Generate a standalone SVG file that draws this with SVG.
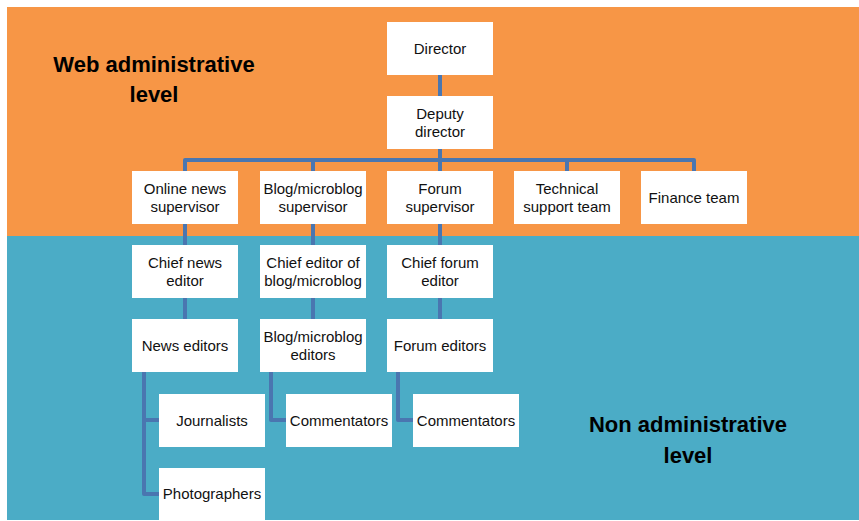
<svg xmlns="http://www.w3.org/2000/svg" width="859" height="521" viewBox="0 0 859 521">
<style>
.box{fill:#ffffff}
.t{font-family:"Liberation Sans",Arial,sans-serif;font-size:15px;fill:#111;text-anchor:middle}
.h{font-family:"Liberation Sans",Arial,sans-serif;font-size:22px;font-weight:bold;fill:#000;text-anchor:middle}
.c{fill:none;stroke:#4A76B0;stroke-width:4;stroke-linejoin:round;stroke-linecap:butt}
</style>
<rect x="0" y="0" width="859" height="521" fill="#ffffff"/>
<rect x="7" y="7" width="852" height="229" fill="#F79646"/>
<rect x="7" y="236" width="852" height="284" fill="#4BACC6"/>
<text class="h" x="154" y="72">Web administrative</text>
<text class="h" x="154" y="102">level</text>
<text class="h" x="688" y="432">Non administrative</text>
<text class="h" x="688" y="463">level</text>
<g id="connectors">
<path class="c" d="M440 75V160"/>
<path class="c" d="M185 171V160H694V171M313 160V171M440 160V171M567 160V171"/>
<path class="c" d="M185 224V245M313 224V245M440 224V245"/>
<path class="c" d="M185 298V319M313 298V319M440 298V319"/>
<path class="c" d="M144 372V494H159M144 420H159"/>
<path class="c" d="M271 372V420H286"/>
<path class="c" d="M398 372V420H413"/>
</g>
<g id="director"><rect class="box" x="387" y="22" width="106" height="53"/><text class="t" x="440" y="53.5">Director</text></g>
<g id="deputy"><rect class="box" x="387" y="96" width="106" height="53"/><text class="t" x="440" y="118.5">Deputy</text><text class="t" x="440" y="136.5">director</text></g>
<g id="online-news"><rect class="box" x="132" y="171" width="106" height="53"/><text class="t" x="185" y="193.5">Online news</text><text class="t" x="185" y="211.5">supervisor</text></g>
<g id="blog-supervisor"><rect class="box" x="260" y="171" width="106" height="53"/><text class="t" x="313" y="193.5">Blog/microblog</text><text class="t" x="313" y="211.5">supervisor</text></g>
<g id="forum-supervisor"><rect class="box" x="387" y="171" width="106" height="53"/><text class="t" x="440" y="193.5">Forum</text><text class="t" x="440" y="211.5">supervisor</text></g>
<g id="technical"><rect class="box" x="514" y="171" width="106" height="53"/><text class="t" x="567" y="193.5">Technical</text><text class="t" x="567" y="211.5">support team</text></g>
<g id="finance"><rect class="box" x="641" y="171" width="106" height="53"/><text class="t" x="694" y="202.5">Finance team</text></g>
<g id="chief-news"><rect class="box" x="132" y="245" width="106" height="53"/><text class="t" x="185" y="267.5">Chief news</text><text class="t" x="185" y="285.5">editor</text></g>
<g id="chief-blog"><rect class="box" x="260" y="245" width="106" height="53"/><text class="t" x="313" y="267.5">Chief editor of</text><text class="t" x="313" y="285.5">blog/microblog</text></g>
<g id="chief-forum"><rect class="box" x="387" y="245" width="106" height="53"/><text class="t" x="440" y="267.5">Chief forum</text><text class="t" x="440" y="285.5">editor</text></g>
<g id="news-editors"><rect class="box" x="132" y="319" width="106" height="53"/><text class="t" x="185" y="350.5">News editors</text></g>
<g id="blog-editors"><rect class="box" x="260" y="319" width="106" height="53"/><text class="t" x="313" y="341.5">Blog/microblog</text><text class="t" x="313" y="359.5">editors</text></g>
<g id="forum-editors"><rect class="box" x="387" y="319" width="106" height="53"/><text class="t" x="440" y="350.5">Forum editors</text></g>
<g id="journalists"><rect class="box" x="159" y="394" width="106" height="53"/><text class="t" x="212" y="425.5">Journalists</text></g>
<g id="commentators-blog"><rect class="box" x="286" y="394" width="106" height="53"/><text class="t" x="339" y="425.5">Commentators</text></g>
<g id="commentators-forum"><rect class="box" x="413" y="394" width="106" height="53"/><text class="t" x="466" y="425.5">Commentators</text></g>
<g id="photographers"><rect class="box" x="159" y="468" width="106" height="53"/><text class="t" x="212" y="499">Photographers</text></g>
</svg>
